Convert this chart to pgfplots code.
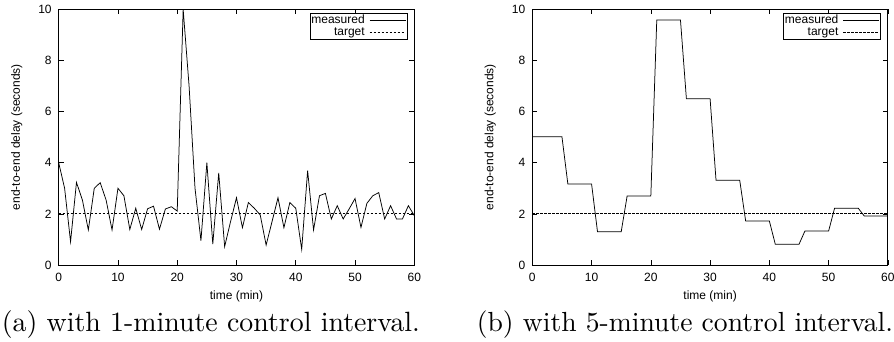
\documentclass[border=0pt]{standalone}
\usepackage{pgfplots}
\usepackage{pgfplotstable}
\pgfplotsset{compat=1.18}
\usepackage{fontspec}
\newfontfamily\plotfont{Liberation Sans}

\pgfplotstableread{
t v
0 4.0
1 3.0
2 0.91
3 3.23
4 2.54
5 1.37
6 3.0
7 3.22
8 2.54
9 1.37
10 3.0
11 2.71
12 1.39
13 2.22
14 1.39
15 2.2
16 2.3
17 1.4
18 2.19
19 2.28
20 2.11
21 10.0
22 7.0
23 3.0
24 0.95
25 4.0
26 0.82
27 3.6
28 0.72
29 1.7
30 2.63
31 1.46
32 2.44
33 2.22
34 1.96
35 0.78
36 1.7
37 2.63
38 1.46
39 2.44
40 2.22
41 0.61
42 3.69
43 1.37
44 2.71
45 2.8
46 1.8
47 2.32
48 1.8
49 2.19
50 2.6
51 1.47
52 2.41
53 2.71
54 2.83
55 1.8
56 2.32
57 1.8
58 1.8
59 2.32
60 1.93
}\measA

\pgfplotstableread{
t v
0 5.02
5 5.02
6 3.17
10 3.17
11 1.30
15 1.30
16 2.70
20 2.70
21 9.58
25 9.58
26 6.50
30 6.50
31 3.31
35 3.31
36 1.72
40 1.72
41 0.81
45 0.81
46 1.33
50 1.33
51 2.22
55 2.22
56 1.92
60 1.92
}\measB

\pgfplotsset{
  delayaxis/.style={
    scale only axis,
    width=355.6pt, height=255.7pt,
    xmin=0, xmax=60, ymin=0, ymax=10,
    xtick={0,10,...,60}, ytick={0,2,...,10},
    tick align=inside,
    major tick length=5pt,
    axis line style={line width=0.9pt},
    every tick/.style={black, line width=0.6pt},
    /pgf/number format/assume math mode=true,
    tick label style={font=\plotfont\fontsize{12}{12}\selectfont},
    xticklabel style={anchor=center, yshift=-12pt},
    yticklabel style={anchor=east, xshift=-3.5pt},
    label style={font=\plotfont\fontsize{12}{12}\selectfont},
    xlabel={time (min)},
    ylabel={end-to-end delay (seconds)},
    xlabel style={at={(rel axis cs:0.5,0)}, anchor=center, yshift=-31pt},
    ylabel style={at={([xshift=-42pt]rel axis cs:0,0.5)}, anchor=center},
    legend plot pos=right,
    legend cell align=right,
    legend image code/.code={\draw[##1] (0pt,0pt) -- (36pt,0pt);},
    legend style={at={(rel axis cs:1,1)}, anchor=north east,
      xshift=-7pt, yshift=-4pt, draw=black, line width=0.6pt,
      inner sep=1pt, column sep=4pt, row sep=0pt,
      font=\plotfont\fontsize{12}{12}\selectfont,
      nodes={inner sep=0.5pt, text height=8.6pt, text depth=2.4pt}},
  },
  measstyle/.style={black, line width=0.75pt},
  targstyle/.style={black, line width=0.75pt, dash pattern=on 2.5pt off 1.5pt},
}

\begin{document}
\begin{tikzpicture}[x=1pt,y=1pt]
\begin{axis}[delayaxis, at={(58.7pt,76pt)}, anchor=south west]
  \addplot[measstyle] table[x=t,y=v]{\measA};
  \addplot[targstyle] coordinates {(0,2) (60,2)};
  \legend{measured,target}
\end{axis}
\begin{axis}[delayaxis, at={(532.3pt,76pt)}, anchor=south west]
  \addplot[measstyle] table[x=t,y=v]{\measB};
  \addplot[targstyle] coordinates {(0,2) (60,2)};
  \legend{measured,target}
\end{axis}
\node[anchor=base] at (210.9,9.3) {\resizebox{418pt}{!}{(a) with 1-minute control interval.}};
\node[anchor=base] at (684.9,9.3) {\resizebox{416pt}{!}{(b) with 5-minute control interval.}};
\pgfresetboundingbox
\path[use as bounding box] (0,0) rectangle (894,341);
\end{tikzpicture}
\end{document}
